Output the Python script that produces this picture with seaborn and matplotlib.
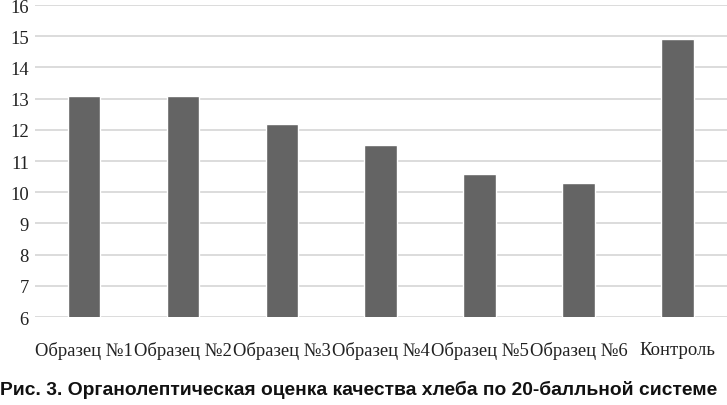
import numpy as np
import pandas as pd
import matplotlib
matplotlib.use("Agg")
import matplotlib.pyplot as plt
import seaborn as sns

# data
samples = ['Образец №1', 'Образец №2', 'Образец №3', 'Образец №4',
           'Образец №5', 'Образец №6', 'Контроль']
scores = [13.1, 13.1, 12.2, 11.5, 10.6, 10.3, 14.9]
yticks = list(range(6, 17))

sns.set_style("white")
plt.rcParams['font.family'] = ['Liberation Serif', 'DejaVu Serif']

df = pd.DataFrame({'sample': samples, 'score': scores})

fig = plt.figure(figsize=(7.27, 4.06), dpi=100)
ax = fig.add_axes([0.0475, 0.2167, 0.9525, 0.7683])

ax.grid(axis='y', color='#d9d9d9', linewidth=1.3, zorder=0)
ax.set_axisbelow(True)
sns.barplot(data=df, x='sample', y='score', color='#646464', width=0.33,
            saturation=1, ax=ax, zorder=3)

ax.set_ylim(6, 16)
ax.set_yticks(yticks)
ax.set_xlim(-0.5, len(samples) - 0.5)
for s in ax.spines.values():
    s.set_visible(False)
ax.tick_params(axis='both', length=0, labelsize=13.4, colors='#222222')
ax.tick_params(axis='x', pad=17)
ax.tick_params(axis='y', pad=4)
ax.set_xlabel('')
ax.set_ylabel('')

fig.text(0.0, 0.04, 'Рис. 3. Органолептическая оценка качества хлеба по 20-балльной системе',
         family=['Liberation Sans', 'DejaVu Sans'], fontweight='bold', fontsize=13.9,
         color='#111111', ha='left', va='center')

fig.savefig('out.png', dpi=100)
